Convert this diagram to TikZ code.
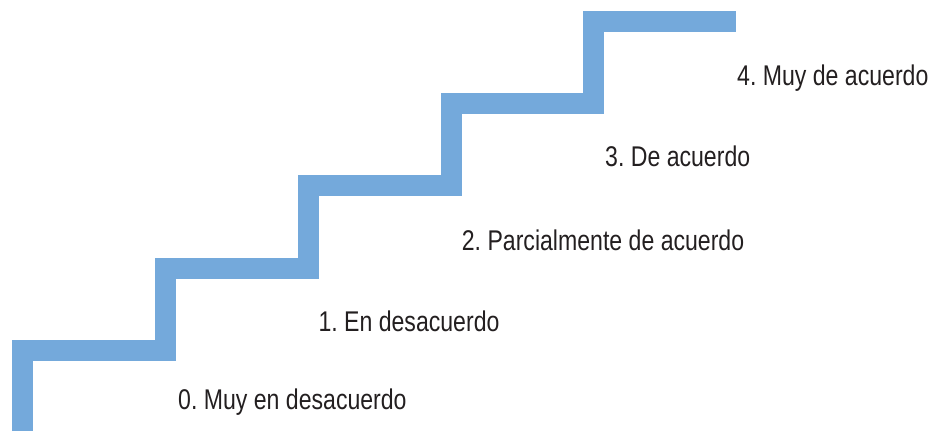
\documentclass[tikz,border=0pt]{standalone}
\usepackage{fontspec}
\setmainfont[FakeStretch=0.81]{Liberation Sans}
\frenchspacing
\usetikzlibrary{positioning}

\definecolor{stairblue}{RGB}{116,169,219}
\definecolor{labelgray}{RGB}{35,31,32}

\tikzset{
  stair/.style={draw=stairblue,line width=21pt,line cap=butt,line join=miter},
  level/.style={anchor=base west,inner sep=0pt,text=labelgray,
    font=\fontsize{28.5}{34}\selectfont}
}

\begin{document}
\begin{tikzpicture}[x=1pt,y=-1pt]
      \useasboundingbox (0,0) rectangle (933,431);

      % corners of the stairs
      \coordinate (start) at (22.7,431);
      \coordinate (c1) at (165.5,350.5);
      \coordinate (c2) at (308,268);
      \coordinate (c3) at (451,185.5);
      \coordinate (c4) at (593.3,103.5);
      \coordinate (top) at (736,21.7);

      \draw[stair] (start) |- (c1) |- (c2) |- (c3) |- (c4) |- (top);

      % answer levels
      \node[level] (l0) at (178,409) {0. Muy en desacuerdo};
      \node[level] (l1) at (318.3,331.7) {1. En desacuerdo};
      \node[level] (l2) at (461.7,250) {2. Parcialmente de acuerdo};
      \node[level] (l3) at (605,166) {3. De acuerdo};
      \node[level] (l4) at (737,85) {4. Muy de acuerdo};
    \end{tikzpicture}
\end{document}
